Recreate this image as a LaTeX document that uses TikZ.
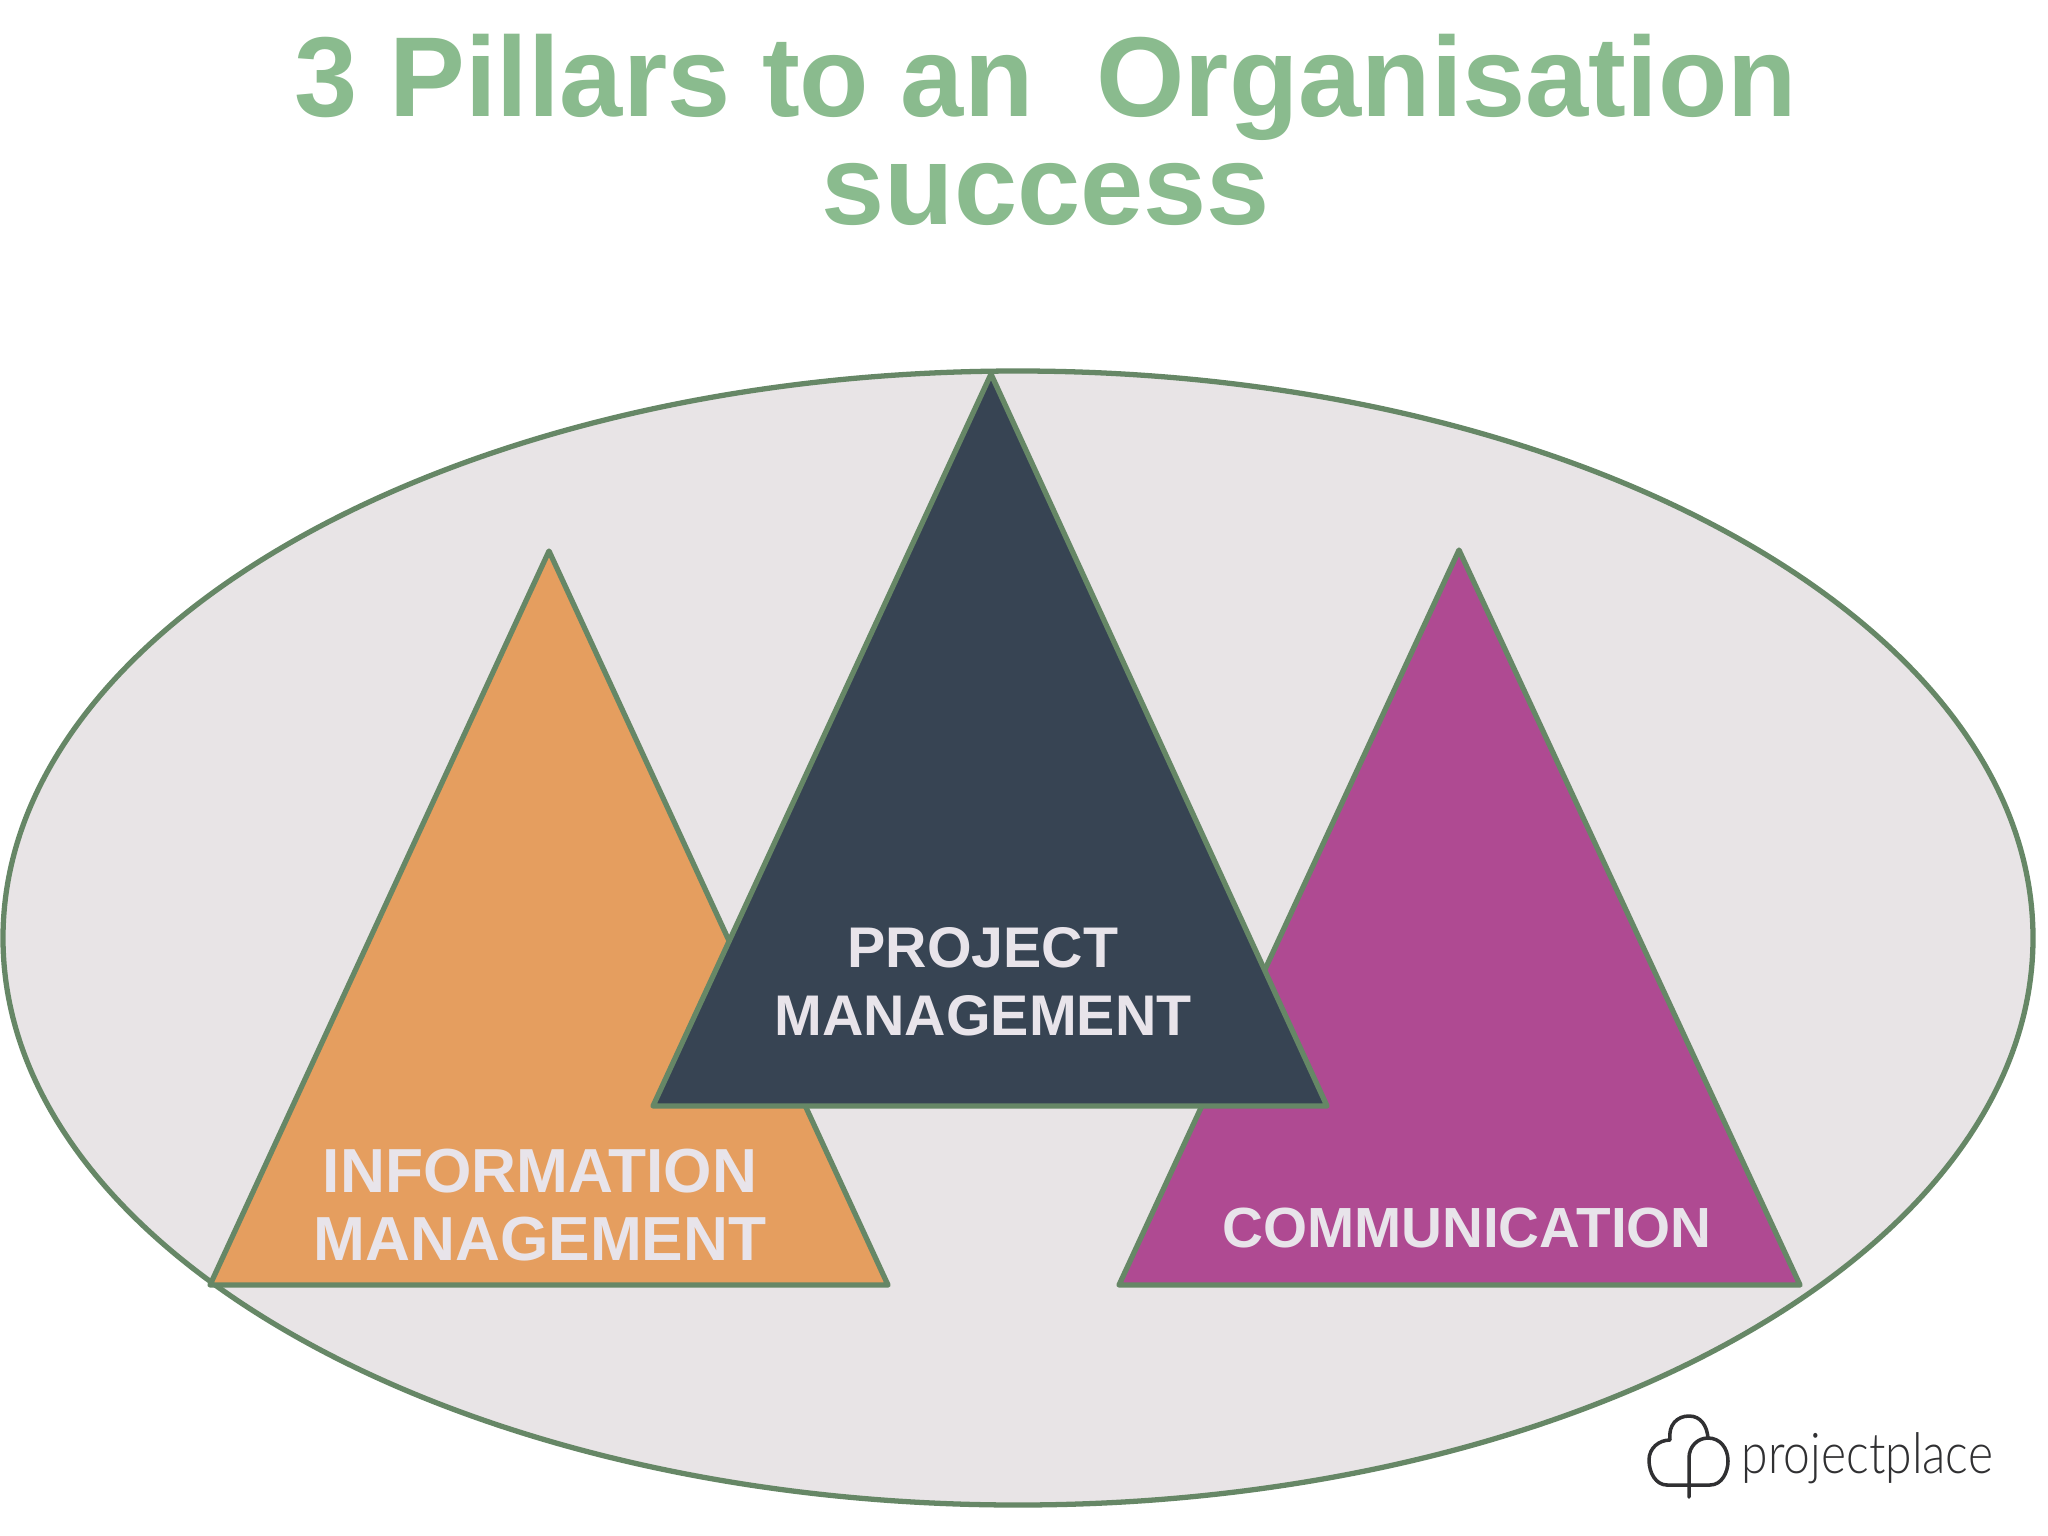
\documentclass[tikz,border=0pt]{standalone}
\usepackage{fontspec}
\setmainfont{Liberation Sans}
\newfontfamily\logofont{Lato Light}
\definecolor{edgegreen}{HTML}{668766}
\definecolor{ovalfill}{HTML}{E8E4E6}
\definecolor{orangefill}{HTML}{E59E5F}
\definecolor{navyfill}{HTML}{374453}
\definecolor{purplefill}{HTML}{AF4A92}
\definecolor{titlegreen}{HTML}{8ABB8E}
\definecolor{labelgrey}{HTML}{E8E4EA}
\definecolor{logoink}{HTML}{303032}
\tikzset{
  pillar/.style={draw=edgegreen,line width=1.5pt,line join=round},
  pillarlabel/.style={text=labelgrey,font=\bfseries,align=center,inner sep=0pt,anchor=center},
  logoline/.style={draw=logoink,line width=1pt,line cap=round,line join=round}
}
\begin{document}
\begin{tikzpicture}[x=0.01cm,y=-0.01cm]
\useasboundingbox (0,0) rectangle (2048,1536);
\fill[white] (0,0) rectangle (2048,1536);
\draw[pillar,fill=ovalfill] (1018,938) ellipse [x radius=1015,y radius=567];
\draw[pillar,fill=orangefill] (549,551) -- (888,1285) -- (210,1285) -- cycle;
\draw[pillar,fill=purplefill] (1459,550) -- (1800,1285) -- (1119,1285) -- cycle;
\draw[pillar,fill=navyfill] (991,374) -- (1327,1106) -- (653,1106) -- cycle;
\node[text=titlegreen,font=\bfseries\fontsize{32.3}{30.5}\selectfont,align=center,inner sep=0pt] (title) at (1046,130) {3 Pillars to an\ \ Organisation\\success};
\node[pillarlabel,font=\bfseries\fontsize{17.7}{19.2}\selectfont] (info) at (540,1205) {INFORMATION\\MANAGEMENT};
\node[pillarlabel,font=\bfseries\fontsize{16.3}{19.2}\selectfont] (pm) at (983,982) {PROJECT\\MANAGEMENT};
\node[pillarlabel,font=\bfseries\fontsize{16.1}{19}\selectfont] (comm) at (1467,1228) {COMMUNICATION};
\node[text=logoink,inner sep=0pt,anchor=base west,font=\logofont\fontsize{16}{18}\selectfont] (logotext) at (1741,1473) {\scalebox{0.853}[1]{projectplace}};
\draw[logoline] (1667,1485) .. controls (1656,1485) and (1649,1473) .. (1649,1460) .. controls (1649,1448) and (1659,1440) .. (1670,1440) .. controls (1668,1425) and (1677,1416) .. (1689,1416) .. controls (1701,1416) and (1707,1426) .. (1708,1438);
\draw[logoline] (1667,1485) -- (1710,1485) .. controls (1722,1485) and (1728,1472) .. (1728,1461) .. controls (1728,1448) and (1720,1438) .. (1708,1438) .. controls (1698,1438) and (1689,1446) .. (1689,1458) -- (1689,1497);
\end{tikzpicture}
\end{document}
